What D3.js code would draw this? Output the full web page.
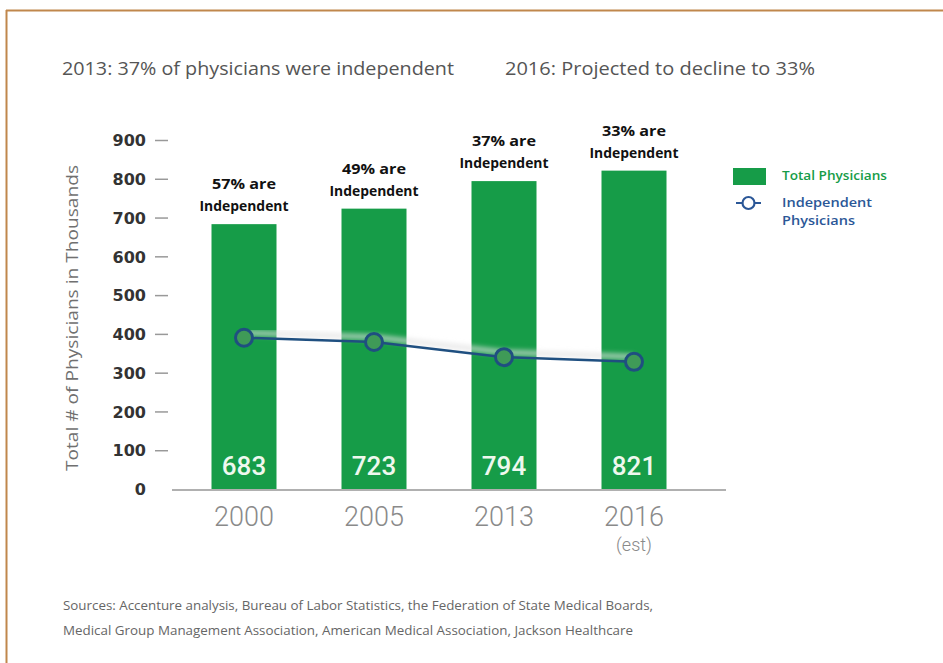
<!DOCTYPE html>
<html>
<head>
<meta charset="utf-8">
<script src="https://cdn.jsdelivr.net/npm/d3@7"></script>
<style>
  html, body { margin: 0; padding: 0; background: #fff; }
  svg { display: block; }
</style>
</head>
<body>
<script>
// Physician counts (thousands) and independent share by year
const years = ["2000", "2005", "2013", "2016"];
const yearNotes = ["", "", "", "(est)"];
const totalPhysicians = [683, 723, 794, 821];
const independentPhysicians = [390, 379, 340, 328];
const independentShare = ["57%", "49%", "37%", "33%"];
const yTicks = [0, 100, 200, 300, 400, 500, 600, 700, 800, 900];

const headlines = [
  { text: "2013: 37% of physicians were independent", x: 62, len: 392 },
  { text: "2016: Projected to decline to 33%", x: 505, len: 310 }
];
const sourceLines = [
  "Sources: Accenture analysis, Bureau of Labor Statistics, the Federation of State Medical Boards,",
  "Medical Group Management Association, American Medical Association, Jackson Healthcare"
];

const W = 943, H = 663;
const green = "#169c48";
const navy = "#1f4f80";

const svg = d3.select("body").append("svg")
  .attr("width", W).attr("height", H);

const defs = svg.append("defs");
defs.append("filter").attr("id", "soft")
  .append("feGaussianBlur").attr("stdDeviation", 2.5);

// frame edges
svg.append("line").attr("x1", 6).attr("x2", W).attr("y1", 10.5).attr("y2", 10.5)
  .attr("stroke", "#c0874c").attr("stroke-width", 2);
svg.append("line").attr("x1", 6.5).attr("x2", 6.5).attr("y1", 10).attr("y2", H)
  .attr("stroke", "#c0874c").attr("stroke-width", 2);

// headlines
svg.selectAll("text.headline").data(headlines).join("text")
  .attr("class", "headline")
  .attr("x", d => d.x).attr("y", 75)
  .attr("font-family", "'Open Sans', sans-serif")
  .attr("font-size", 18)
  .attr("fill", "#555")
  .attr("textLength", d => d.len)
  .attr("lengthAdjust", "spacingAndGlyphs")
  .text(d => d.text);

// scales
const x = d3.scaleBand().domain(years).range([179, 699])
  .paddingInner(0.5).paddingOuter(0.25);
const y = d3.scaleLinear().domain([0, 900]).range([489, 140]);

// y axis: labels with short dashes
const yAxis = d3.axisLeft(y).tickValues(yTicks).tickSize(0).tickPadding(0);
const yg = svg.append("g").attr("transform", "translate(146,0)").call(yAxis);
yg.select(".domain").remove();
yg.selectAll("text")
  .attr("font-family", "'DejaVu Sans', sans-serif")
  .attr("font-weight", "bold")
  .attr("font-size", 16)
  .attr("fill", "#333")
  .attr("dy", "0.36em");
yg.selectAll(".tick").filter(d => d > 0).append("line")
  .attr("x1", 9).attr("x2", 22)
  .attr("stroke", "#999").attr("stroke-width", 1.5);

// y axis title
svg.append("text")
  .attr("transform", "translate(78,318) rotate(-90)")
  .attr("text-anchor", "middle")
  .attr("font-family", "'Open Sans', sans-serif")
  .attr("font-size", 17)
  .attr("fill", "#707070")
  .attr("textLength", 306)
  .attr("lengthAdjust", "spacingAndGlyphs")
  .text("Total # of Physicians in Thousands");

// bars
svg.selectAll("rect.bar").data(years).join("rect")
  .attr("class", "bar")
  .attr("x", d => x(d))
  .attr("width", x.bandwidth())
  .attr("y", (d, i) => y(totalPhysicians[i]))
  .attr("height", (d, i) => y(0) - y(totalPhysicians[i]))
  .attr("fill", green);

// baseline
svg.append("line").attr("x1", 172).attr("x2", 726)
  .attr("y1", y(0) + 1).attr("y2", y(0) + 1)
  .attr("stroke", "#b0b0b0").attr("stroke-width", 2);

// values inside bars
svg.selectAll("text.val").data(years).join("text")
  .attr("class", "val")
  .attr("x", d => x(d) + x.bandwidth() / 2)
  .attr("y", 475)
  .attr("text-anchor", "middle")
  .attr("font-family", "Roboto, sans-serif")
  .attr("font-weight", 500)
  .attr("font-size", 26)
  .attr("fill", "#eef8ee")
  .text((d, i) => totalPhysicians[i]);

// share annotations above bars
const ann = svg.selectAll("g.ann").data(years).join("g")
  .attr("class", "ann")
  .attr("transform", (d, i) => `translate(${x(d) + x.bandwidth() / 2},${y(totalPhysicians[i])})`);
ann.append("text")
  .attr("y", -35)
  .attr("text-anchor", "middle")
  .attr("font-family", "'Open Sans', sans-serif")
  .attr("font-weight", 700)
  .attr("font-size", 15)
  .attr("fill", "#111")
  .attr("textLength", 64)
  .attr("lengthAdjust", "spacingAndGlyphs")
  .text((d, i) => independentShare[i] + " are");
ann.append("text")
  .attr("y", -13)
  .attr("text-anchor", "middle")
  .attr("font-family", "'Open Sans', sans-serif")
  .attr("font-weight", 700)
  .attr("font-size", 15)
  .attr("fill", "#111")
  .attr("textLength", 89)
  .attr("lengthAdjust", "spacingAndGlyphs")
  .text("Independent");

// x axis labels
svg.selectAll("text.year").data(years).join("text")
  .attr("class", "year")
  .attr("x", d => x(d) + x.bandwidth() / 2)
  .attr("y", 526)
  .attr("text-anchor", "middle")
  .attr("font-family", "Roboto, sans-serif")
  .attr("font-weight", 300)
  .attr("font-size", 27)
  .attr("fill", "#8a8a8a")
  .text(d => d);
svg.selectAll("text.note").data(years).join("text")
  .attr("class", "note")
  .attr("x", d => x(d) + x.bandwidth() / 2)
  .attr("y", 551)
  .attr("text-anchor", "middle")
  .attr("font-family", "Roboto, sans-serif")
  .attr("font-weight", 300)
  .attr("font-size", 18)
  .attr("fill", "#8a8a8a")
  .text((d, i) => yearNotes[i]);

// independent physicians line with a soft shadow above it
const cx = d => x(d) + x.bandwidth() / 2;
const line = d3.line().x(d => cx(d)).y((d, i) => y(independentPhysicians[i]));
svg.append("path").datum(years)
  .attr("d", line)
  .attr("transform", "translate(0,-5)")
  .attr("fill", "none")
  .attr("stroke", "#e2e2e2")
  .attr("stroke-opacity", 0.75)
  .attr("stroke-width", 5)
  .attr("filter", "url(#soft)");
svg.append("path").datum(years)
  .attr("d", line)
  .attr("fill", "none")
  .attr("stroke", navy)
  .attr("stroke-width", 2.5);
svg.selectAll("circle.pt").data(years).join("circle")
  .attr("class", "pt")
  .attr("cx", cx)
  .attr("cy", (d, i) => y(independentPhysicians[i]))
  .attr("r", 8.5)
  .attr("fill", "#3f9a57")
  .attr("stroke", navy)
  .attr("stroke-width", 3);

// legend
const lg = svg.append("g");
lg.append("rect").attr("x", 733).attr("y", 168).attr("width", 33).attr("height", 17).attr("fill", green);
lg.append("text").attr("x", 782).attr("y", 180)
  .attr("font-family", "'Open Sans', sans-serif").attr("font-weight", 600)
  .attr("font-size", 13).attr("fill", green)
  .attr("textLength", 105).attr("lengthAdjust", "spacingAndGlyphs")
  .text("Total Physicians");
lg.append("line").attr("x1", 736).attr("x2", 761).attr("y1", 203).attr("y2", 203)
  .attr("stroke", "#2b5797").attr("stroke-width", 2);
lg.append("circle").attr("cx", 748.5).attr("cy", 203).attr("r", 6)
  .attr("fill", "#fff").attr("stroke", "#2b5797").attr("stroke-width", 2.2);
lg.append("text").attr("x", 782).attr("y", 207)
  .attr("font-family", "'Open Sans', sans-serif").attr("font-weight", 600)
  .attr("font-size", 13).attr("fill", "#2b5797")
  .attr("textLength", 90).attr("lengthAdjust", "spacingAndGlyphs")
  .text("Independent");
lg.append("text").attr("x", 782).attr("y", 225)
  .attr("font-family", "'Open Sans', sans-serif").attr("font-weight", 600)
  .attr("font-size", 13).attr("fill", "#2b5797")
  .attr("textLength", 73).attr("lengthAdjust", "spacingAndGlyphs")
  .text("Physicians");

// sources
svg.selectAll("text.src").data(sourceLines).join("text")
  .attr("class", "src")
  .attr("x", 63)
  .attr("y", (d, i) => 610 + i * 25)
  .attr("font-family", "'Open Sans', sans-serif")
  .attr("font-size", 12.5)
  .attr("fill", "#666")
  .attr("textLength", (d, i) => i === 0 ? 590 : 570)
  .attr("lengthAdjust", "spacingAndGlyphs")
  .text(d => d);
</script>
</body>
</html>
